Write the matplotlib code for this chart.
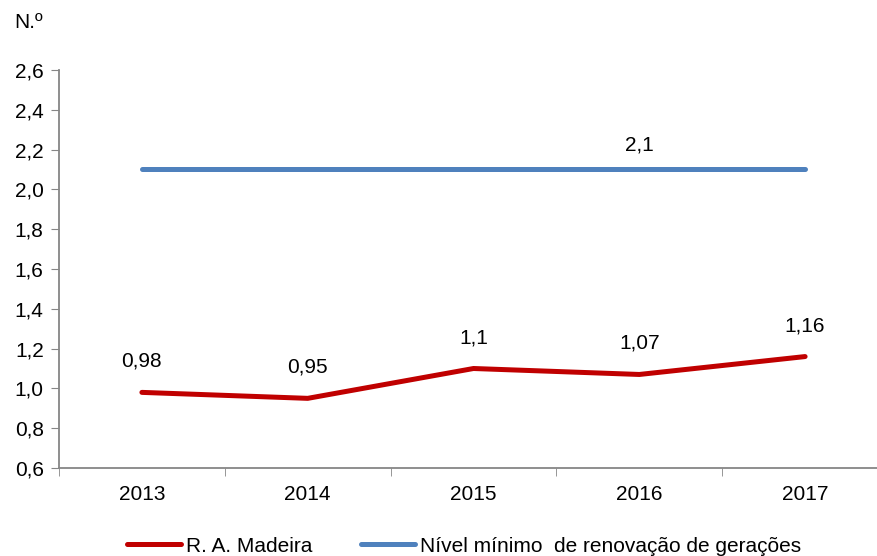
import matplotlib
matplotlib.use("Agg")
import matplotlib.pyplot as plt
from matplotlib.ticker import FixedLocator, NullFormatter

plt.rcParams['font.family'] = ['Liberation Sans', 'DejaVu Sans']

years = ['2013', '2014', '2015', '2016', '2017']
madeira = [0.98, 0.95, 1.1, 1.07, 1.16]
minimo = [2.1, 2.1, 2.1, 2.1, 2.1]
madeira_labels = ['0,98', '0,95', '1,1', '1,07', '1,16']
minimo_label = '2,1'
yticks = [0.6, 0.8, 1.0, 1.2, 1.4, 1.6, 1.8, 2.0, 2.2, 2.4, 2.6]

W, H = 877, 556
fig = plt.figure(figsize=(W/100, H/100), dpi=100)
ax = fig.add_axes([59/W, (H-468)/H, (888-59)/W, (468-70)/H])

x = list(range(len(years)))
red = '#C00000'
blue = '#4F81BD'
l1, = ax.plot(x, madeira, color=red, lw=3.6, solid_capstyle='round', label='R. A. Madeira')
l2, = ax.plot(x, minimo, color=blue, lw=3.6, solid_capstyle='round',
              label='Nível mínimo  de renovação de gerações')

FS = 15
for xi, v, lab in zip(x, madeira, madeira_labels):
    ax.annotate(lab, (xi, v), xytext=(0, 31), textcoords='offset pixels',
                ha='center', va='center', fontsize=FS)
ax.annotate(minimo_label, (3, minimo[3]), xytext=(0, 24), textcoords='offset pixels',
            ha='center', va='center', fontsize=FS)

ax.set_xlim(-0.5, len(years) - 0.5)
ax.set_ylim(0.6, 2.6)
ax.set_yticks(yticks)
ax.set_yticklabels([f'{t:.1f}'.replace('.', ',') for t in yticks], fontsize=FS)
ax.set_xticks(x)
ax.set_xticklabels(years, fontsize=FS)
ax.xaxis.set_minor_locator(FixedLocator([i - 0.5 for i in range(len(years) + 1)]))
ax.xaxis.set_minor_formatter(NullFormatter())
ax.tick_params(axis='x', which='major', length=0, pad=12)
ax.tick_params(axis='x', which='minor', length=6, color='#868686', direction='out')
ax.tick_params(axis='y', length=6, color='#868686', direction='out', pad=5)

for s in ['top', 'right']:
    ax.spines[s].set_visible(False)
for s in ['left', 'bottom']:
    ax.spines[s].set_color('#868686')
    ax.spines[s].set_linewidth(1.3)

fig.text(14/W, 1 - 22/H, 'N.º', fontsize=FS, ha='left', va='center')

fig.legend(handles=[l1, l2], loc='center left', bbox_to_anchor=(127/W, 1 - 546/H),
           ncol=2, frameon=False, fontsize=FS,
           handlelength=2.6, handletextpad=0.25,
           columnspacing=2.3, borderaxespad=0, borderpad=0)

fig.savefig('out.png', dpi=100)
